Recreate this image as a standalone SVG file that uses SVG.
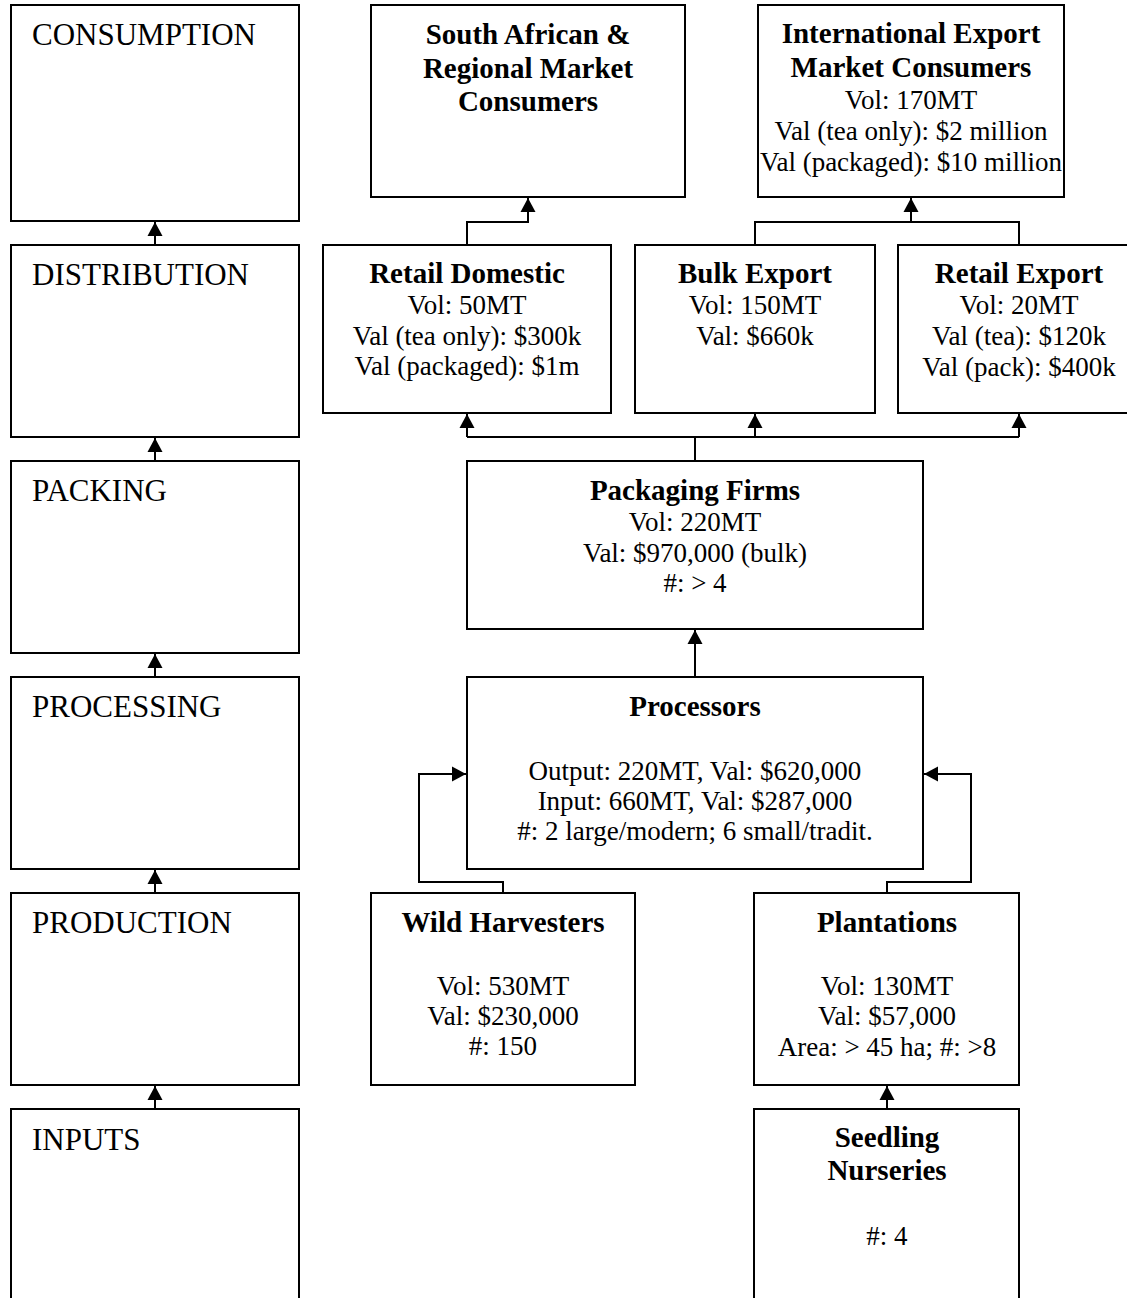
<svg xmlns="http://www.w3.org/2000/svg" width="1127" height="1298" viewBox="0 0 1127 1298">
  <style>
    .box { fill: #fff; stroke: #000; stroke-width: 2; }
    .stage { font-family: "Liberation Serif", "Times New Roman", serif; font-size: 31px; fill: #000; }
    .t { font-family: "Liberation Serif", "Times New Roman", serif; font-size: 27px; fill: #000; text-anchor: middle; }
    .h { font-family: "Liberation Serif", "Times New Roman", serif; font-size: 29px; font-weight: bold; fill: #000; text-anchor: middle; }
    .wire { fill: none; stroke: #000; stroke-width: 2; }
    .arrow { fill: none; stroke: #000; stroke-width: 2; marker-end: url(#head); }
  </style>
  <defs>
    <marker id="head" markerUnits="userSpaceOnUse" markerWidth="16" markerHeight="16" viewBox="0 0 16 16" refX="14" refY="8" orient="auto">
      <path d="M0,0.5 L14,8 L0,15.5 Z" fill="#000"/>
    </marker>
  </defs>
  <rect width="1127" height="1298" fill="#fff"/>

  <!-- value chain stages (left column) -->
  <g id="stage-consumption">
    <rect class="box" x="11" y="5" width="288" height="216"/>
    <text class="stage" x="32" y="45">CONSUMPTION</text>
  </g>
  <g id="stage-distribution">
    <rect class="box" x="11" y="245" width="288" height="192"/>
    <text class="stage" x="32" y="285">DISTRIBUTION</text>
  </g>
  <g id="stage-packing">
    <rect class="box" x="11" y="461" width="288" height="192"/>
    <text class="stage" x="32" y="501">PACKING</text>
  </g>
  <g id="stage-processing">
    <rect class="box" x="11" y="677" width="288" height="192"/>
    <text class="stage" x="32" y="717">PROCESSING</text>
  </g>
  <g id="stage-production">
    <rect class="box" x="11" y="893" width="288" height="192"/>
    <text class="stage" x="32" y="933">PRODUCTION</text>
  </g>
  <g id="stage-inputs">
    <rect class="box" x="11" y="1109" width="288" height="210"/>
    <text class="stage" x="32" y="1150">INPUTS</text>
  </g>

  <!-- consumers -->
  <g id="sa-consumers">
    <rect class="box" x="371" y="5" width="314" height="192"/>
    <text class="h" x="528" y="44">South African &amp;</text>
    <text class="h" x="528" y="78">Regional Market</text>
    <text class="h" x="528" y="111">Consumers</text>
  </g>
  <g id="intl-consumers">
    <rect class="box" x="758" y="5" width="306" height="192"/>
    <text class="h" x="911" y="43">International Export</text>
    <text class="h" x="911" y="77">Market Consumers</text>
    <text class="t" x="911" y="109">Vol: 170MT</text>
    <text class="t" x="911" y="140">Val (tea only): $2 million</text>
    <text class="t" x="911" y="171">Val (packaged): $10 million</text>
  </g>

  <!-- distribution channels -->
  <g id="retail-domestic">
    <rect class="box" x="323" y="245" width="288" height="168"/>
    <text class="h" x="467" y="283">Retail Domestic</text>
    <text class="t" x="467" y="314">Vol: 50MT</text>
    <text class="t" x="467" y="345">Val (tea only): $300k</text>
    <text class="t" x="467" y="375">Val (packaged): $1m</text>
  </g>
  <g id="bulk-export">
    <rect class="box" x="635" y="245" width="240" height="168"/>
    <text class="h" x="755" y="283">Bulk Export</text>
    <text class="t" x="755" y="314">Vol: 150MT</text>
    <text class="t" x="755" y="345">Val: $660k</text>
  </g>
  <g id="retail-export">
    <rect class="box" x="898" y="245" width="242" height="168"/>
    <text class="h" x="1019" y="283">Retail Export</text>
    <text class="t" x="1019" y="314">Vol: 20MT</text>
    <text class="t" x="1019" y="345">Val (tea): $120k</text>
    <text class="t" x="1019" y="376">Val (pack): $400k</text>
  </g>

  <!-- packing and processing -->
  <g id="packaging-firms">
    <rect class="box" x="467" y="461" width="456" height="168"/>
    <text class="h" x="695" y="500">Packaging Firms</text>
    <text class="t" x="695" y="531">Vol: 220MT</text>
    <text class="t" x="695" y="562">Val: $970,000 (bulk)</text>
    <text class="t" x="695" y="592">#: &gt; 4</text>
  </g>
  <g id="processors">
    <rect class="box" x="467" y="677" width="456" height="192"/>
    <text class="h" x="695" y="716">Processors</text>
    <text class="t" x="695" y="780">Output: 220MT, Val: $620,000</text>
    <text class="t" x="695" y="810">Input: 660MT, Val: $287,000</text>
    <text class="t" x="695" y="840">#: 2 large/modern; 6 small/tradit.</text>
  </g>

  <!-- production and inputs -->
  <g id="wild-harvesters">
    <rect class="box" x="371" y="893" width="264" height="192"/>
    <text class="h" x="503" y="932">Wild Harvesters</text>
    <text class="t" x="503" y="995">Vol: 530MT</text>
    <text class="t" x="503" y="1025">Val: $230,000</text>
    <text class="t" x="503" y="1055">#: 150</text>
  </g>
  <g id="plantations">
    <rect class="box" x="754" y="893" width="265" height="192"/>
    <text class="h" x="887" y="932">Plantations</text>
    <text class="t" x="887" y="995">Vol: 130MT</text>
    <text class="t" x="887" y="1025">Val: $57,000</text>
    <text class="t" x="887" y="1056">Area: &gt; 45 ha; #: &gt;8</text>
  </g>
  <g id="seedling-nurseries">
    <rect class="box" x="754" y="1109" width="265" height="210"/>
    <text class="h" x="887" y="1147">Seedling</text>
    <text class="h" x="887" y="1180">Nurseries</text>
    <text class="t" x="887" y="1245">#: 4</text>
  </g>

  <!-- connectors -->
  <g id="connectors">
    <path class="arrow" d="M155,245 V222"/>
    <path class="arrow" d="M155,461 V438"/>
    <path class="arrow" d="M155,677 V654"/>
    <path class="arrow" d="M155,893 V870"/>
    <path class="arrow" d="M155,1109 V1086"/>

    <path class="arrow" d="M467,245 V222 H528 V198"/>
    <path class="wire" d="M755,245 V222 H1019 V245"/>
    <path class="arrow" d="M911,222 V198"/>

    <path class="wire" d="M695,461 V437"/>
    <path class="wire" d="M467,437 H1019"/>
    <path class="arrow" d="M467,437 V414"/>
    <path class="arrow" d="M755,437 V414"/>
    <path class="arrow" d="M1019,437 V414"/>

    <path class="arrow" d="M695,677 V630"/>

    <path class="arrow" d="M503,893 V882 H419 V774 H466"/>
    <path class="arrow" d="M887,893 V882 H971 V774 H924"/>

    <path class="arrow" d="M887,1109 V1086"/>
  </g>
</svg>
